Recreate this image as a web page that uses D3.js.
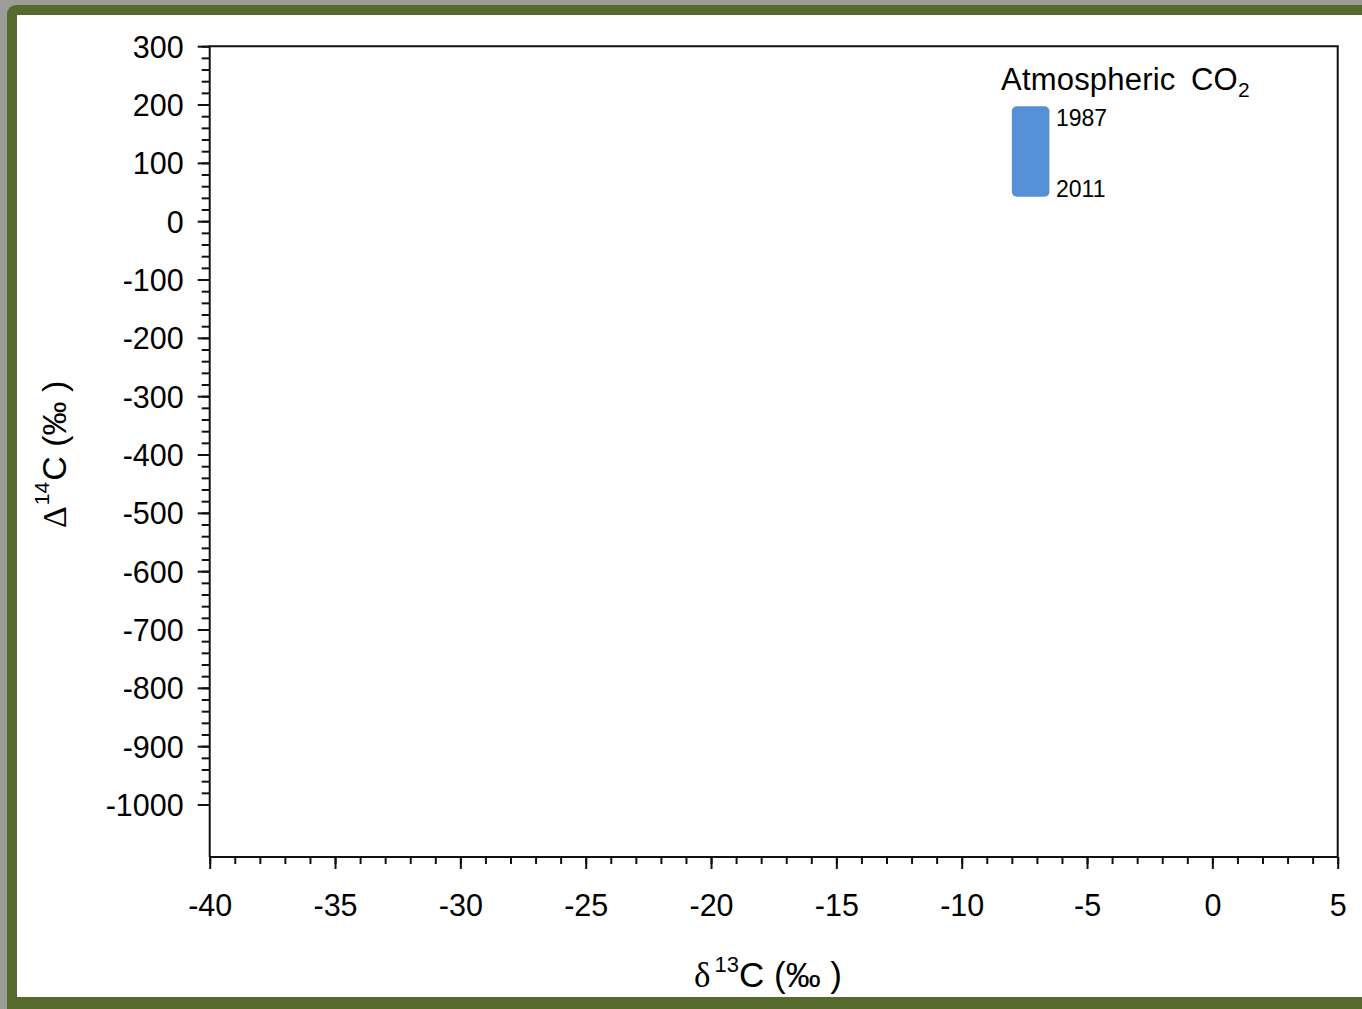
<!DOCTYPE html>
<html>
<head>
<meta charset="utf-8">
<script src="https://cdn.jsdelivr.net/npm/d3@7"></script>
<style>
  html, body { margin: 0; padding: 0; background: #9c9c98; }
  svg { display: block; }
  text { font-family: "Liberation Sans", Arial, sans-serif; fill: #000; }
</style>
</head>
<body>
<script>
// ---- data ----
const xDomain = [-40, 5];
const yDomain = [-1090, 300];
const xMajorTicks = [-40, -35, -30, -25, -20, -15, -10, -5, 0, 5];
const yMajorTicks = [300, 200, 100, 0, -100, -200, -300, -400, -500, -600, -700, -800, -900, -1000];
const xMinorStep = 1;
const yMinorStep = 20;
// Atmospheric CO2 range (1987 -> 2011)
const co2Years = ["1987", "2011"];
const co2D13C = [-8, -6.5];
const co2D14C = [197, 42];

(function () {
const W = 1362, H = 1009;
const svg = d3.select("body").append("svg").attr("width", W).attr("height", H);

// frame
svg.append("rect").attr("x", 7).attr("y", 5).attr("width", W + 20).attr("height", H + 20)
  .attr("rx", 9).attr("fill", "#566a2d");
svg.append("rect").attr("x", 17).attr("y", 15).attr("width", W).attr("height", 997 - 15)
  .attr("fill", "#ffffff");

const pL = 209.7, pR = 1337.7, pT = 46.2, pB = 857;
const x = d3.scaleLinear().domain(xDomain).range([pL, pR]);
const y = d3.scaleLinear().domain(yDomain).range([pB, pT]);

const g = svg.append("g");

// minor ticks
const xMinor = d3.range(xDomain[0], xDomain[1] + 0.001, xMinorStep);
const yMinor = d3.range(-1000, 300 + 0.001, yMinorStep);

const xMinorAxis = g.append("g").attr("transform", `translate(0,${pB})`)
  .call(d3.axisBottom(x).tickValues(xMinor).tickSize(7).tickFormat(""));
const yMinorAxis = g.append("g").attr("transform", `translate(${pL},0)`)
  .call(d3.axisLeft(y).tickValues(yMinor).tickSize(8).tickFormat(""));

const xAxis = g.append("g").attr("transform", `translate(0,${pB})`)
  .call(d3.axisBottom(x).tickValues(xMajorTicks).tickSize(12).tickPadding(25).tickFormat(d3.format("d")));
const yAxis = g.append("g").attr("transform", `translate(${pL},0)`)
  .call(d3.axisLeft(y).tickValues(yMajorTicks).tickSize(12).tickPadding(14).tickFormat(d3.format("d")));

[xMinorAxis, yMinorAxis, xAxis, yAxis].forEach(a => {
  a.select(".domain").remove();
  a.selectAll(".tick line").attr("stroke", "#111").attr("stroke-width", 2);
});
xAxis.selectAll(".tick text").attr("font-size", 30.5).attr("font-family", "Liberation Sans, Arial, sans-serif")
  .attr("fill", "#000").text(d => d < 0 ? "-" + Math.abs(d) : d);
yAxis.selectAll(".tick text").attr("font-size", 30.5).attr("font-family", "Liberation Sans, Arial, sans-serif")
  .attr("fill", "#000").attr("dy", "0.36em").text(d => d < 0 ? "-" + Math.abs(d) : d);

// plot frame lines
const frame = g.append("g").attr("stroke", "#111").attr("stroke-width", 2).attr("fill", "none");
frame.append("line").attr("x1", pL).attr("x2", pL).attr("y1", pT).attr("y2", pB);
frame.append("line").attr("x1", pL).attr("x2", pR).attr("y1", pB).attr("y2", pB);
frame.append("line").attr("x1", pL - 1).attr("x2", pR + 1).attr("y1", pT).attr("y2", pT);
frame.append("line").attr("x1", pR).attr("x2", pR).attr("y1", pT).attr("y2", pB);

// atmospheric CO2 bar
g.append("rect")
  .attr("x", x(co2D13C[0])).attr("width", x(co2D13C[1]) - x(co2D13C[0]))
  .attr("y", y(co2D14C[0])).attr("height", y(co2D14C[1]) - y(co2D14C[0]))
  .attr("rx", 5).attr("fill", "#5690d6");

// legend texts
const leg = g.append("text").attr("x", 1001).attr("y", 90).attr("font-size", 31).attr("letter-spacing", 0.2);
leg.append("tspan").text("Atmospheric");
leg.append("tspan").attr("x", 1191).text("CO");
leg.append("tspan").attr("font-size", 21).attr("dy", 7).text("2");

g.append("text").attr("x", 1056).attr("y", 126).attr("font-size", 23).text(co2Years[0]);
g.append("text").attr("x", 1056).attr("y", 197).attr("font-size", 23).text(co2Years[1]);

// x title
const xt = svg.append("text").attr("x", 694).attr("y", 987).attr("font-size", 35);
xt.append("tspan").attr("font-family", "Liberation Serif, Times New Roman, serif").text("δ");
xt.append("tspan").attr("font-size", 22).attr("dx", 4).attr("dy", -15).text("13");
xt.append("tspan").attr("dx", 0).attr("dy", 15).text("C (‰ )");

// y title
const yt = svg.append("text").attr("transform", "translate(66,528) rotate(-90)").attr("font-size", 34);
yt.append("tspan").attr("font-family", "Liberation Serif, Times New Roman, serif").text("Δ");
yt.append("tspan").attr("font-size", 21).attr("dx", 1).attr("dy", -17).text("14");
yt.append("tspan").attr("dx", 1).attr("dy", 17).text("C (‰ )");
})();
</script>
</body>
</html>
